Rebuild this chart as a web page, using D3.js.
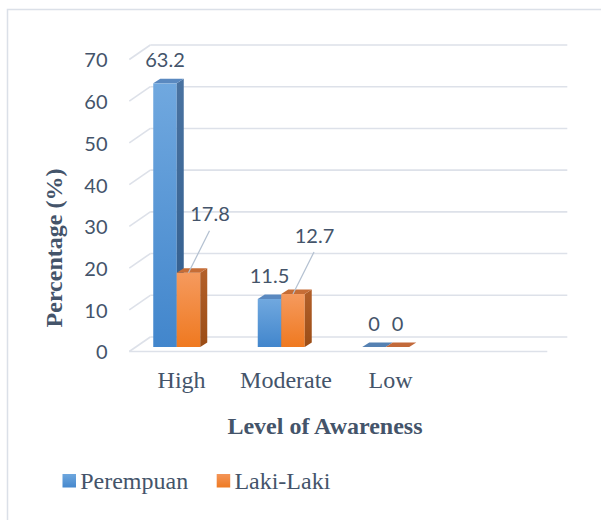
<!DOCTYPE html>
<html>
<head>
<meta charset="utf-8">
<script src="https://cdn.jsdelivr.net/npm/d3@7"></script>
<style>
  html, body { margin: 0; padding: 0; background: #ffffff; }
  svg { display: block; }
</style>
</head>
<body>
<svg id="chart" width="601" height="520"></svg>
<script>
// ---- data ----
const categories = ["High", "Moderate", "Low", ""];
const seriesNames = ["Perempuan", "Laki-Laki"];
const perempuan = [63.2, 11.5, 0];
const lakiLaki = [17.8, 12.7, 0];
const yTicks = [0, 10, 20, 30, 40, 50, 60, 70];
const yTitle = "Percentage (%)";
const xTitle = "Level of Awareness";

// ---- layout / style ----
const W = 601, H = 520;
const textColor = "#44546a";
const gridColor = "#dde1e9";
const depthX = 21, depthY = -14.5;      // floor depth (front -> back wall)
const barDX = 7, barDY = -4.5;          // bar depth
const barW = 23.5;

const svg = d3.select("#chart");
const defs = svg.append("defs");
function grad(id, c1, c2) {
  const g = defs.append("linearGradient").attr("id", id)
    .attr("x1", 0).attr("y1", 0).attr("x2", 0).attr("y2", 1);
  g.append("stop").attr("offset", "0%").attr("stop-color", c1);
  g.append("stop").attr("offset", "100%").attr("stop-color", c2);
}
grad("bFront", "#70a8df", "#4286cc");
grad("bSide", "#4a73a1", "#2f5b8b");
grad("oFront", "#f59a5e", "#ef7920");
grad("oSide", "#b3602a", "#9b4d16");
grad("bLeg", "#6ea7de", "#4688cd");
grad("oLeg", "#f49558", "#ee7a22");

const styles = [
  { front: "url(#bFront)", side: "url(#bSide)", top: "#5a89c0", flat: "#5581b2" },
  { front: "url(#oFront)", side: "url(#oSide)", top: "#c66d36", flat: "#c2693a" }
];

// chart border
svg.append("rect").attr("x", 7.5).attr("y", 9.5)
  .attr("width", W + 20).attr("height", H + 20)
  .attr("fill", "none").attr("stroke", "#dbe0e8").attr("stroke-width", 1.5);

// scales
const x = d3.scaleBand().domain(categories).range([129.3, 547.3]);
const y = d3.scaleLinear().domain([0, 70]).range([347, 55]);       // bar front faces
const yBack = v => y(v) - 10;                                       // back wall
const yLab = d3.scaleLinear().domain([0, 70]).range([352.5, 60.5]); // tick labels

// gridlines
const grid = svg.append("g").attr("stroke", gridColor).attr("stroke-width", 1.6).attr("fill", "none");
yTicks.forEach(v => {
  const yb = yBack(v);
  const x0 = x.range()[0] + depthX;
  const x1 = x.range()[1] + depthX - 1;
  grid.append("line").attr("x1", x0).attr("y1", yb).attr("x2", x1).attr("y2", yb);
  grid.append("line").attr("x1", x.range()[0]).attr("y1", yb - depthY)
    .attr("x2", x0).attr("y2", yb);
});
// floor front edge
grid.append("line").attr("x1", x.range()[0]).attr("y1", yBack(0) - depthY)
  .attr("x2", x.range()[1]).attr("y2", yBack(0) - depthY);

// y axis labels
const yAxis = d3.axisLeft(yLab).tickValues(yTicks).tickSize(0).tickPadding(0);
const gy = svg.append("g").attr("transform", "translate(107.5,0)").call(yAxis);
gy.select(".domain").remove();
gy.selectAll("text").attr("fill", textColor)
  .style("font-family", "Lato, 'Open Sans', sans-serif").style("font-size", "20px");

// x axis labels
const xAxis = d3.axisBottom(x).tickSize(0).tickPadding(0);
const gx = svg.append("g").attr("transform", "translate(0,388)").call(xAxis);
gx.select(".domain").remove();
gx.selectAll("text").attr("y", 0).attr("dy", 0).attr("fill", textColor)
  .style("font-family", "'Liberation Serif', 'Times New Roman', serif").style("font-size", "24px");

// bars
const seriesData = [perempuan, lakiLaki];
const bars = svg.append("g");
function bar3d(x0, top, bottom, st) {
  const g = bars.append("g");
  const x1 = x0 + barW;
  if (bottom - top > 0.5) {
    g.append("rect").attr("x", x0).attr("y", top).attr("width", barW).attr("height", bottom - top)
      .attr("fill", st.front);
    g.append("path").attr("d", `M${x1},${top}L${x1 + barDX},${top + barDY}L${x1 + barDX},${bottom + barDY}L${x1},${bottom}Z`)
      .attr("fill", st.side);
    g.append("path").attr("d", `M${x0},${top}L${x0 + barDX},${top + barDY}L${x1 + barDX},${top + barDY}L${x1},${top}Z`)
      .attr("fill", st.top);
  } else {
    g.append("path").attr("d", `M${x0},${top}L${x0 + barDX},${top + barDY}L${x1 + barDX},${top + barDY}L${x1},${top}Z`)
      .attr("fill", st.flat);
  }
}
const labels = [];
categories.forEach((c, i) => {
  if (i >= perempuan.length) return;
  const center = x(c) + x.bandwidth() / 2 - 4.8;
  seriesData.forEach((arr, s) => {
    const v = arr[i];
    const x0 = center - barW + s * barW;
    bar3d(x0, y(v), y(0), styles[s]);
    labels.push({ v, s, cx: x0 + barW / 2, top: y(v) });
  });
});

// data labels
const lab = svg.append("g").attr("fill", textColor)
  .style("font-family", "Lato, 'Open Sans', sans-serif").style("font-size", "20px")
  .attr("text-anchor", "middle");
labels.forEach(d => {
  let lx = d.cx, ly = d.top - 23.5;
  if (d.s === 1 && d.v > 0) {
    lx = d.cx + 21.5; ly = d.top - 58.5;
    svg.append("line").attr("x1", lx - 0.5).attr("y1", ly + 16.5)
      .attr("x2", d.cx).attr("y2", d.top)
      .attr("stroke", "#b4c1d1").attr("stroke-width", 1.2);
  }
  lab.append("text").attr("x", lx).attr("y", ly).attr("dy", "0.36em").text(d.v);
});

// axis titles
svg.append("text").attr("x", 325).attr("y", 434).attr("text-anchor", "middle")
  .attr("fill", textColor).style("font-family", "'Liberation Serif', 'Times New Roman', serif")
  .style("font-size", "24px").style("font-weight", "bold").text(xTitle);
svg.append("text").attr("transform", "translate(62,248) rotate(-90)").attr("text-anchor", "middle")
  .attr("fill", textColor).style("font-family", "'Liberation Serif', 'Times New Roman', serif")
  .style("font-size", "24px").style("font-weight", "bold").text(yTitle);

// legend
const legX = [62.5, 216.7];
const legFill = ["url(#bLeg)", "url(#oLeg)"];
seriesNames.forEach((n, i) => {
  svg.append("rect").attr("x", legX[i]).attr("y", 474).attr("width", 13.5).attr("height", 13.5)
    .attr("fill", legFill[i]);
  svg.append("text").attr("x", legX[i] + 17.7).attr("y", 489).attr("fill", textColor)
    .style("font-family", "'Liberation Serif', 'Times New Roman', serif").style("font-size", "24px")
    .text(n);
});
</script>
</body>
</html>
